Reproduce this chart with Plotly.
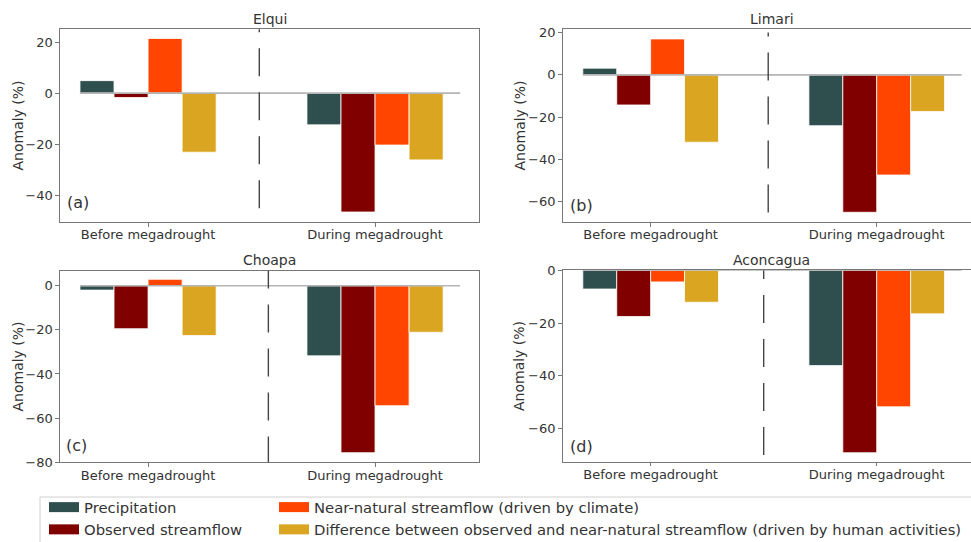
import plotly.graph_objects as go

# ---------------- data ----------------
periods = ["Before megadrought", "During megadrought"]
basins = ["Elqui", "Limari", "Choapa", "Aconcagua"]
panel_tags = ["(a)", "(b)", "(c)", "(d)"]
series_names = [
    "Precipitation",
    "Observed streamflow",
    "Near-natural streamflow (driven by climate)",
    "Difference between observed and near-natural streamflow (driven by human activities)",
]
series_colors = ["#2F4F4F", "#800000", "#FF4500", "#DAA520"]

# anomaly (%) per basin: [before, during]
precipitation = [[4.9, -12.4], [3.2, -24.0], [-2.0, -31.8], [-7.1, -36.1]]
observed = [[-1.7, -46.5], [-14.2, -64.9], [-19.5, -75.7], [-17.5, -69.1]]
near_natural = [[21.4, -20.3], [17.0, -47.3], [2.9, -54.4], [-4.4, -51.7]]
difference = [[-23.1, -26.1], [-31.8, -17.3], [-22.6, -21.1], [-12.1, -16.5]]

# reference lines: divider position and vertical span, zero-line span
divider_x = [0.49, 0.52, 0.53, 0.50]
divider_span = [(-45, 25), (-65, 20), (-81, 8), (-70, 0)]
zero_span = (-0.3, 1.375)

# ---------------- layout geometry ----------------
W, H = 971, 542
px_x = lambda v: v / W
px_y = lambda v: 1 - v / H

x_domains = [(60, 479), (562.7, 971), (60, 479), (562.7, 971)]
y_domains = [(29, 222), (29, 222), (270.7, 462.3), (270.3, 461.7)]
x_ranges = [(-0.388, 1.458), (-0.389, 1.417), (-0.388, 1.458), (-0.389, 1.417)]
y_ranges = [(-50.4, 25.1), (-69.5, 21.7), (-80.05, 6.8), (-72.5, 0)]
title_pos = [(269.5, 19), (771.7, 19), (269.5, 260), (771.7, 260)]
tag_pos = [(65, 203), (568, 205), (64, 445), (568, 446)]
ylabel_x = [17, 519, 17, 519]

all_series = [precipitation, observed, near_natural, difference]
legend_of = ["legend", "legend", "legend2", "legend2"]

FONT = "DejaVu Sans, Verdana, sans-serif"
TXT = "#333333"
SPINE = "#777777"

fig = go.Figure()

for p in range(4):
    ax = "" if p == 0 else str(p + 1)
    for s in range(4):
        fig.add_trace(go.Bar(
            x=[0, 1],
            y=all_series[s][p],
            name=series_names[s],
            marker=dict(color=series_colors[s], line=dict(color="rgba(255,255,255,0.8)", width=1)),
            offsetgroup=str(s),
            legendgroup=str(s),
            showlegend=False,
            xaxis="x" + ax,
            yaxis="y" + ax,
        ))

    full_box = p in (0, 2)
    fig.update_layout(**{
        "xaxis" + ax: dict(
            domain=[px_x(x_domains[p][0]), px_x(x_domains[p][1])],
            range=list(x_ranges[p]),
            anchor="y" + ax,
            tickvals=[0, 1],
            ticktext=periods,
            ticks="outside", ticklen=3.5, tickcolor=SPINE, tickwidth=1,
            ticklabelstandoff=-3,
            showline=True, linecolor=SPINE, linewidth=1.2, mirror=True,
            showgrid=False, zeroline=False, automargin=False,
            tickfont=dict(family=FONT, size=13, color=TXT),
            fixedrange=True,
        ),
        "yaxis" + ax: dict(
            domain=[px_y(y_domains[p][1]), px_y(y_domains[p][0])],
            range=list(y_ranges[p]),
            anchor="x" + ax,
            dtick=20,
            ticks="outside", ticklen=3.5, tickcolor=SPINE, tickwidth=1,
            showline=True, linecolor=SPINE, linewidth=1.2, mirror=full_box,
            showgrid=False, zeroline=False, automargin=False,
            tickfont=dict(family=FONT, size=13, color=TXT),
            fixedrange=True,
        ),
    })

    # zero line
    fig.add_shape(type="line", xref="x" + ax, yref="y" + ax,
                  x0=zero_span[0], x1=zero_span[1], y0=0, y1=0,
                  line=dict(color="#b5b5b5", width=1.6), layer="above")
    # dashed divider
    fig.add_shape(type="line", xref="x" + ax, yref="y" + ax,
                  x0=divider_x[p], x1=divider_x[p],
                  y0=divider_span[p][0], y1=divider_span[p][1],
                  line=dict(color="#444444", width=1.4, dash="28px,16px"), layer="above")

    fig.add_annotation(text=basins[p], xref="paper", yref="paper",
                       x=px_x(title_pos[p][0]), y=px_y(title_pos[p][1]),
                       xanchor="center", yanchor="middle", showarrow=False,
                       font=dict(family=FONT, size=14, color=TXT))
    fig.add_annotation(text=panel_tags[p], xref="paper", yref="paper",
                       x=px_x(tag_pos[p][0]), y=px_y(tag_pos[p][1]),
                       xanchor="left", yanchor="middle", showarrow=False,
                       font=dict(family=FONT, size=16, color=TXT))
    # y-axis title
    ymid = (y_domains[p][0] + y_domains[p][1]) / 2
    fig.add_annotation(text="Anomaly (%)", xref="paper", yref="paper",
                       x=px_x(ylabel_x[p]), y=px_y(ymid), textangle=-90,
                       xanchor="center", yanchor="middle", showarrow=False,
                       font=dict(family=FONT, size=14, color=TXT))

# legend-only entries (wide patches, like the reference legend)
for s in range(4):
    fig.add_trace(go.Scatter(
        x=[None], y=[None], mode="lines", name=series_names[s],
        line=dict(color=series_colors[s], width=10),
        legendgroup=str(s), legend=legend_of[s], showlegend=True,
        hoverinfo="skip",
    ))

# legend frame
fig.add_shape(type="rect", xref="paper", yref="paper",
              x0=px_x(40), x1=px_x(978), y0=px_y(548), y1=px_y(497),
              line=dict(color="#d0d0d0", width=1), fillcolor="rgba(255,255,255,0)")

legend_common = dict(
    orientation="v", xanchor="left", yanchor="top",
    xref="container", yref="container",
    font=dict(family=FONT, size=14.8, color=TXT),
    bgcolor="rgba(0,0,0,0)", borderwidth=0, tracegroupgap=0,
    itemwidth=30,
    itemclick=False, itemdoubleclick=False,
)

fig.update_layout(
    width=W, height=H,
    margin=dict(l=0, r=0, t=0, b=0, autoexpand=False),
    paper_bgcolor="white", plot_bgcolor="white",
    barmode="group", bargap=0.4, bargroupgap=0,
    showlegend=True,
    legend=dict(x=px_x(44), y=px_y(491), **legend_common),
    legend2=dict(x=px_x(274), y=px_y(491), **legend_common),
    font=dict(family=FONT, size=13, color=TXT),
)

fig.write_html("out.html")
